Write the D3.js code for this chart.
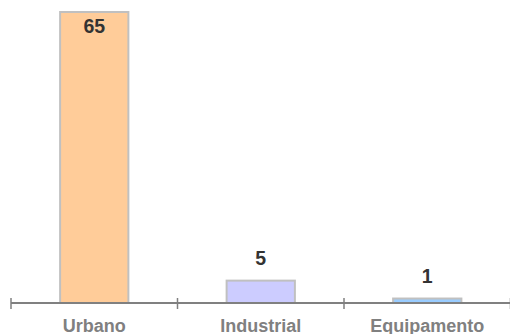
<!DOCTYPE html>
<html><head><meta charset="utf-8">
<script src="https://cdn.jsdelivr.net/npm/d3@7"></script>
<style>html,body{margin:0;padding:0;background:#fff;}</style>
</head><body><div id="chart"></div>
<script>
const categories = ["Urbano", "Industrial", "Equipamento"];
const values = [65, 5, 1];
const colors = ["#FFCC99", "#CCCCFF", "#99CCFF"];

const W = 510, H = 334;
const svg = d3.select("#chart").append("svg").attr("width", W).attr("height", H);
const x = d3.scaleBand().domain(categories).range([11, 510.5]).padding(0);
const y = d3.scaleLinear().domain([0, 65]).range([303, 12]);
const barW = x.bandwidth() * 0.41;

svg.selectAll("rect.bar").data(values).enter().append("rect")
  .attr("x", (d, i) => x(categories[i]) + x.bandwidth() / 2 - barW / 2)
  .attr("y", d => y(d))
  .attr("width", barW)
  .attr("height", d => y(0) - y(d))
  .attr("fill", (d, i) => colors[i])
  .attr("stroke", "#c0c0c0").attr("stroke-width", 2);

const axis = svg.append("g");
axis.append("line").attr("x1", 11).attr("x2", 510).attr("y1", y(0)).attr("y2", y(0))
  .attr("stroke", "#808080").attr("stroke-width", 2);
const tickPos = categories.map(c => x(c)).concat([x.range()[1]]);
axis.selectAll("line.tick").data(tickPos).enter().append("line")
  .attr("x1", d => d).attr("x2", d => d).attr("y1", y(0) - 5).attr("y2", y(0) + 6)
  .attr("stroke", "#808080").attr("stroke-width", 1.5);

svg.selectAll("text.cat").data(categories).enter().append("text")
  .attr("x", d => x(d) + x.bandwidth() / 2).attr("y", 331.5)
  .attr("text-anchor", "middle").attr("font-family", "Liberation Sans, Arial, sans-serif")
  .attr("font-weight", "bold").attr("font-size", 18).attr("fill", "#808080").text(d => d);

svg.selectAll("text.val").data(values).enter().append("text")
  .attr("x", (d, i) => x(categories[i]) + x.bandwidth() / 2)
  .attr("y", d => Math.max(y(d) - 16, 33))
  .attr("text-anchor", "middle").attr("font-family", "Liberation Sans, Arial, sans-serif")
  .attr("font-weight", "bold").attr("font-size", 19.5).attr("fill", "#333333").text(d => d);
</script></body></html>
